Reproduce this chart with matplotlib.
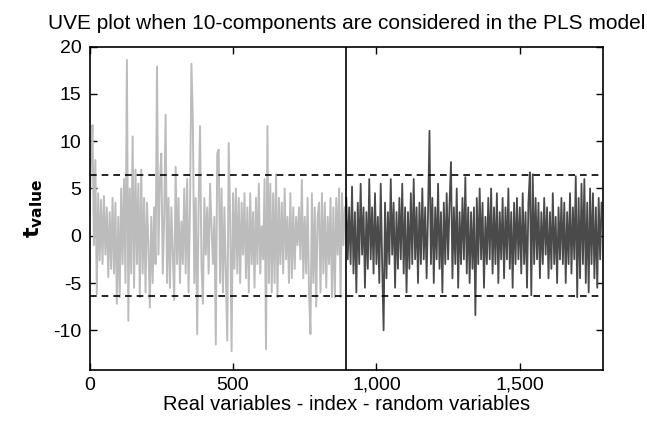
import numpy as np
import matplotlib
matplotlib.use("Agg")
import matplotlib.pyplot as plt

plt.rcParams["font.family"] = ["Liberation Sans", "DejaVu Sans"]
plt.rcParams["axes.unicode_minus"] = False

# t-values of the real variables (every 5th index)
real_t = [
    2.5, 8.0, 11.7, -1.0, 8.0, -6.2, 4.5, -2.6, 3.8, -3.0,
    4.2, -2.0, 3.0, -4.4, 2.5, -3.5, 4.0, -4.0, 3.5, -7.2,
    2.0, -6.5, 5.0, -3.0, 6.0, -5.0, 18.6, -9.0, 5.0, -4.0,
    10.5, -5.5, 7.0, -3.0, 5.5, -6.5, 7.0, -4.0, 4.0, -6.0,
    3.5, -1.0, -7.6, 2.0, -5.0, 3.0, -3.0, 17.9, -2.0, 6.0,
    8.7, -4.0, 2.0, 12.8, -5.0, 4.0, -5.5, 3.0, -2.0, -6.8,
    7.3, -3.0, 4.0, -5.0, 1.5, -3.0, 5.0, -4.0, 6.0, -6.0,
    3.0, 18.2, 12.1, -5.0, 4.0, -10.4, 3.0, 11.6, -3.0, -7.2,
    4.0, -2.0, 3.0, -4.0, 5.5, 1.0, -3.0, 2.0, -11.5, 8.7,
    9.1, -5.0, 5.0, -6.0, 3.0, -4.0, -11.1, 9.8, 2.0, -12.2,
    4.5, -3.5, 5.0, -4.0, 4.0, -5.0, 3.5, -2.0, 4.5, -4.5,
    3.0, -6.0, 4.5, -3.0, 2.5, -5.5, 4.0, -3.0, 5.5, -4.0,
    1.0, -2.5, 6.0, -12.0, 11.6, -5.0, 5.5, -6.0, 4.5, -5.0,
    6.5, -6.5, 4.0, -3.0, 3.5, -4.0, 5.0, -2.5, 2.0, -5.0,
    4.5, -4.5, 3.0, -3.5, 2.0, -1.0, 3.0, -2.5, 5.9, -4.5,
    2.0, -4.0, 4.0, -6.0, -10.4, 4.5, -5.0, 3.0, -7.5, 2.0,
    3.5, -6.0, 4.5, -4.0, 3.5, -5.5, 2.0, -3.0, 4.0, -6.5,
    3.0, -6.5, 4.0, -2.0, 5.0, -6.5, 4.5, -1.0, 3.0,
]

# t-values of the added random variables
rand_t = [
    4.0, -2.5, 3.0, -3.0, 5.2, -4.0, 2.5, -6.0, 3.5, -3.0,
    5.5, -2.0, 3.0, -5.5, 2.5, -3.5, 6.0, -2.5, 3.0, -4.0,
    4.5, -3.0, 2.0, -5.0, 5.5, -3.0, -10.0, 3.5, -4.5, 2.5,
    -3.0, 6.0, -2.0, 3.5, -5.5, 2.5, -3.5, 4.0, -2.5, 5.5,
    -4.0, 3.0, -6.0, 2.5, -3.5, 4.5, -3.0, 6.0, -2.5, 3.0,
    -5.0, 3.5, -3.0, 5.0, -2.5, 3.0, -4.5, 2.5, 11.1, -3.0,
    4.0, -5.0, 3.0, -2.5, 5.5, -3.5, 2.5, -6.0, 3.5, -3.0,
    4.5, -2.5, 3.5, 7.8, -4.5, 3.0, -3.0, 5.0, -5.5, 2.5,
    -3.0, 4.0, -2.5, 6.2, -4.0, 3.0, -5.0, 2.5, -3.5, 3.0,
    -8.4, 4.0, -3.0, 5.0, -2.5, 3.5, -5.5, 2.0, -3.0, 4.0,
    -2.5, 5.0, -4.0, 3.0, -3.0, 4.5, -5.0, 2.5, -2.5, 4.0,
    -4.5, 3.0, -2.5, 5.0, -3.5, 2.5, -5.5, 3.5, -3.0, 4.0,
    -2.5, 3.0, -4.0, 4.5, -3.0, 2.5, -5.5, 3.5, 6.7, -6.3,
    6.5, -3.0, 4.0, -2.5, 3.5, -4.5, 2.5, -3.0, 4.0, -2.0,
    3.0, -4.5, 2.5, -3.5, 4.5, -3.0, 2.0, -5.0, 3.0, -2.5,
    4.0, -3.0, 3.5, -5.0, 2.5, -3.0, 4.5, -4.0, 3.0, -2.5,
    6.3, -6.5, 4.0, -4.5, 5.5, -3.0, 6.0, -5.0, 3.5, -6.0,
    5.0, -3.0, 4.5, -4.5, 3.0, -5.5, 4.0, -2.5, 3.5,
]

n_real = 895
n_total = 1790
step = 5
cutoff = 6.4

real_idx = np.arange(0, n_real, step)
rand_idx = np.arange(n_real, n_total, step)

fig = plt.figure(figsize=(6.47, 4.26), dpi=100)
ax = fig.add_axes([0.1385, 0.1315, 0.7935, 0.759])

ax.plot(real_idx, real_t, color="#bcbcbc", linewidth=1.4)
ax.plot(rand_idx, rand_t, color="#4a4a4a", linewidth=1.3)

ax.axvline(n_real, color="black", linewidth=1.2)
ax.axhline(cutoff, color="black", linestyle=(0, (4, 3)), linewidth=1.2)
ax.axhline(-cutoff, color="black", linestyle=(0, (4, 3)), linewidth=1.2)

ax.set_xlim(0, n_total)
ax.set_ylim(-14.2, 20)
ax.set_xticks([0, 500, 1000, 1500])
ax.set_xticklabels(["0", "500", "1,000", "1,500"])
ax.set_yticks([-10, -5, 0, 5, 10, 15, 20])
ax.tick_params(direction="in", top=True, right=True, labelsize=14, length=5,
               width=1, pad=6)
ax.tick_params(axis="x", pad=5)
for s in ax.spines.values():
    s.set_linewidth(1.2)

ax.set_title("UVE plot when 10-components are considered in the PLS model",
             fontsize=15, pad=13)
ax.set_xlabel("Real variables - index - random variables", fontsize=14.5,
              labelpad=1)
ax.set_ylabel(r"$\mathbf{t_{value}}$", fontsize=16, labelpad=6)

fig.savefig("out.png", dpi=100)
